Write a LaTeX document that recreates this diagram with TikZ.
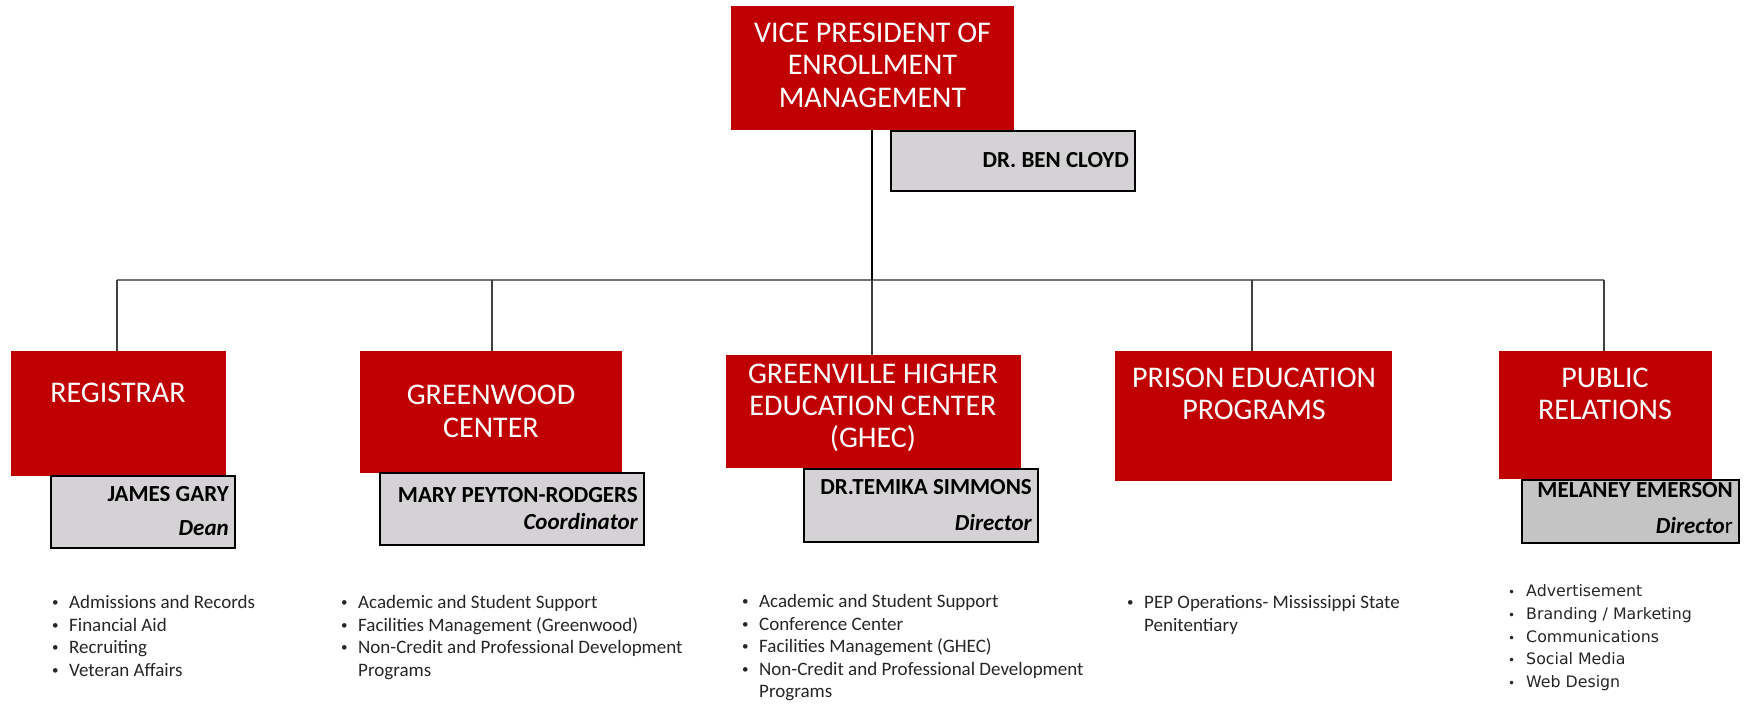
\documentclass[tikz,border=0pt]{standalone}
\usepackage{fontspec}
\setmainfont{Carlito}
\newfontfamily\verdanalike{DejaVu Sans}
\usetikzlibrary{fit}
\definecolor{cred}{RGB}{192,0,0}
\definecolor{cgray}{RGB}{212,210,212}
\definecolor{cgraydk}{RGB}{196,196,196}
\definecolor{ctext}{RGB}{38,38,38}
\newcommand{\smbul}{\raisebox{1.6pt}{\fontsize{13}{13}\selectfont\textbullet}}
\newcommand{\prbul}{{\fontsize{12}{12}\selectfont\textbullet}}
\newcommand{\bul}{\makebox[17pt][l]{\smbul}}
\newcommand{\cont}{\hspace*{17pt}}
\tikzset{
  redbox/.style={fill=cred, draw=none, inner sep=0pt},
  namebox/.style={fill=cgray, draw=black, line width=1.4pt, inner sep=0pt},
  redtxt/.style={anchor=base, inner sep=0pt, text=white, font=\fontsize{30}{32}\selectfont},
  nametxt/.style={anchor=base east, inner sep=0pt, text=black, font=\fontsize{23}{25}\selectfont\bfseries},
  roletxt/.style={anchor=base east, inner sep=0pt, text=black, font=\fontsize{23}{25}\selectfont\bfseries\itshape},
  lst/.style={anchor=base west, inner sep=0pt, text=ctext, font=\fontsize{19}{22}\selectfont},
  lstpr/.style={anchor=base west, inner sep=0pt, text=ctext, font=\verdanalike\fontsize{15.8}{22}\selectfont},
  trunk/.style={draw=black, line width=2.2pt},
  bus/.style={draw=black!55, line width=2pt},
  drop/.style={draw=black!75, line width=1.6pt},
}
\begin{document}
\begin{tikzpicture}[x=1pt, y=-1pt]
\useasboundingbox (0,0) rectangle (1744,704);
\fill[white] (0,0) rectangle (1744,704);

% hub coordinate on the horizontal bus
\coordinate (hub) at (872,280);

% boxes
\node[redbox, fit={(731,6) (1014,130)}] (vp) {};
\node[namebox, fit={(891,131) (1135,191)}] (vpn) {};

\node[redbox, fit={(11,351) (226,476)}] (reg) {};
\node[namebox, fit={(51,476) (235,548)}] (regn) {};

\node[redbox, fit={(360,351) (622,473)}] (gw) {};
\node[namebox, fit={(380,473) (644,545)}] (gwn) {};

\node[redbox, fit={(726,355) (1021,468)}] (gh) {};
\node[namebox, fit={(804,469) (1038,542)}] (ghn) {};

\node[redbox, fit={(1115,351) (1392,481)}] (pep) {};

\node[redbox, fit={(1499,351) (1712,479)}] (pr) {};
\node[namebox, fill=cgraydk, fit={(1522,480) (1739,543)}] (prn) {};

% connectors
\coordinate (busL) at (117,280);
\coordinate (busR) at (1604,280);
\coordinate (dGW) at (492,280);
\coordinate (dPEP) at (1252,280);
\coordinate (vpb) at (872,130);
\coordinate (ghtop) at (872,355);
\draw[bus] (busL) -- (busR);
\draw[drop] (busL) -- (busL |- reg.north);
\draw[drop] (dGW) -- (dGW |- gw.north);
\draw[drop] (hub) -- (ghtop);
\draw[drop] (dPEP) -- (dPEP |- pep.north);
\draw[drop] (busR) -- (busR |- pr.north);
\draw[trunk] (vpb) -- (hub);

% titles
\node[redtxt] (vpt1) at (872.5,42) {VICE PRESIDENT OF};
\node[redtxt] (vpt2) at (872.5,74) {ENROLLMENT};
\node[redtxt] (vpt3) at (872.5,107) {MANAGEMENT};
\node[nametxt] (vpname) at (1129,167) {DR. BEN CLOYD};

\node[redtxt] (regt) at (118,402) {REGISTRAR};
\node[nametxt] (regname) at (229,501) {JAMES GARY};
\node[roletxt] (regrole) at (229,535) {Dean};

\node[redtxt] (gwt1) at (491,404) {GREENWOOD};
\node[redtxt] (gwt2) at (491,437) {CENTER};
\node[nametxt] (gwname) at (638,502) {MARY PEYTON-RODGERS};
\node[roletxt] (gwrole) at (638,529) {Coordinator};

\node[redtxt] (ght1) at (873,383) {GREENVILLE HIGHER};
\node[redtxt] (ght2) at (873,415) {EDUCATION CENTER};
\node[redtxt] (ght3) at (873,447) {(GHEC)};
\node[nametxt] (ghname) at (1032,494) {DR.TEMIKA SIMMONS};
\node[roletxt] (ghrole) at (1032,530) {Director};

\node[redtxt] (pept1) at (1254,387) {PRISON EDUCATION};
\node[redtxt] (pept2) at (1254,419) {PROGRAMS};

\node[redtxt] (prt1) at (1605,387) {PUBLIC};
\node[redtxt] (prt2) at (1605,419) {RELATIONS};
\node[nametxt] (prname) at (1733,497) {MELANEY EMERSON};
\node[nametxt] (prrole) at (1733,533) {{\itshape Directo}\mdseries r};

% lists
\node[lst] (r1) at (52,608) {\bul Admissions and Records};
\node[lst] (r2) at (52,631) {\bul Financial Aid};
\node[lst] (r3) at (52,653) {\bul Recruiting};
\node[lst] (r4) at (52,676) {\bul Veteran Affairs};

\node[lst] (g1) at (341,608) {\bul Academic and Student Support};
\node[lst] (g2) at (341,631) {\bul Facilities Management (Greenwood)};
\node[lst] (g3) at (341,653) {\bul Non-Credit and Professional Development};
\node[lst] (g4) at (341,676) {\cont Programs};

\node[lst] (h1) at (742,607) {\bul Academic and Student Support};
\node[lst] (h2) at (742,630) {\bul Conference Center};
\node[lst] (h3) at (742,652) {\bul Facilities Management (GHEC)};
\node[lst] (h4) at (742,675) {\bul Non-Credit and Professional Development};
\node[lst] (h5) at (742,697) {\cont Programs};

\node[lst] (p1) at (1127,608) {\bul PEP Operations- Mississippi State};
\node[lst] (p2) at (1127,631) {\cont Penitentiary};

\node[lstpr] (q1) at (1508,596) {\makebox[18pt][l]{\prbul}Advertisement};
\node[lstpr] (q2) at (1508,619) {\makebox[18pt][l]{\prbul}Branding / Marketing};
\node[lstpr] (q3) at (1508,642) {\makebox[18pt][l]{\prbul}Communications};
\node[lstpr] (q4) at (1508,664) {\makebox[18pt][l]{\prbul}Social Media};
\node[lstpr] (q5) at (1508,687) {\makebox[18pt][l]{\prbul}Web Design};
\end{tikzpicture}
\end{document}
